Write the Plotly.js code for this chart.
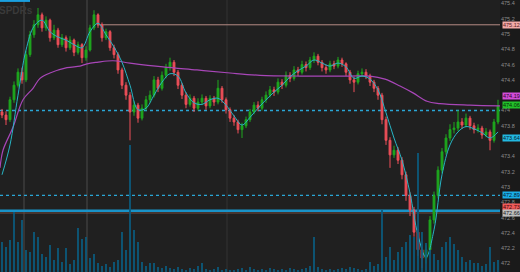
<!DOCTYPE html>
<html><head><meta charset="utf-8">
<script src="https://cdn.plot.ly/plotly-3.0.1.min.js"></script>
<style>html,body{margin:0;padding:0;background:#1a1a1a;}#chart{width:520px;height:272px;}</style>
</head><body><div id="chart"></div>
<script>
// ---- data (SPY-like intraday, one candle per bucket) ----
const open = [473.98,473.94,473.88,474.14,474.33,474.50,474.40,474.73,474.99,475.12,
475.25,475.08,475.18,474.95,475.05,474.86,474.95,474.82,474.92,474.76,
474.86,474.69,474.79,475.08,475.25,475.12,474.95,475.03,474.82,474.73,
474.53,474.33,474.20,473.98,474.07,473.90,474.03,474.14,474.20,474.40,
474.29,474.46,474.56,474.63,474.50,474.33,474.20,474.08,474.16,474.03,
474.11,474.16,474.06,474.16,474.11,474.29,474.14,474.01,473.90,473.85,
473.75,473.80,473.88,473.98,474.07,474.03,474.14,474.20,474.27,474.24,
474.37,474.33,474.46,474.42,474.53,474.50,474.60,474.56,474.66,474.71,
474.63,474.56,474.53,474.61,474.58,474.66,474.61,474.50,474.40,474.37,
474.48,474.50,474.45,474.37,474.29,474.20,473.88,473.61,473.42,473.48,
473.35,473.16,472.89,472.70,472.41,472.18,472.07,472.18,472.57,472.89,
473.22,473.46,473.64,473.75,473.77,473.85,473.81,473.90,473.80,473.75,
473.77,473.68,473.72,473.61,473.85];
const high = [474.02,473.99,474.18,474.38,474.55,474.56,474.78,475.04,475.18,475.34,
475.28,475.23,475.20,475.12,475.08,475.00,474.98,474.97,474.94,474.90,
474.88,474.84,475.12,475.31,475.27,475.15,475.07,475.05,474.86,474.76,
474.56,474.37,474.24,474.12,474.10,474.08,474.19,474.26,474.45,474.44,
474.51,474.61,474.69,474.66,474.53,474.36,474.24,474.21,474.19,474.16,
474.21,474.19,474.20,474.19,474.40,474.32,474.17,474.04,473.94,473.88,
473.84,473.92,474.02,474.11,474.12,474.18,474.25,474.32,474.31,474.42,
474.41,474.51,474.50,474.58,474.57,474.65,474.64,474.70,474.76,474.74,
474.66,474.60,474.65,474.65,474.70,474.69,474.63,474.53,474.44,474.52,
474.55,474.54,474.48,474.40,474.32,474.23,473.92,473.65,473.54,473.52,
473.39,473.20,472.93,472.74,472.45,472.22,472.24,472.62,472.94,473.27,
473.51,473.69,473.82,473.85,474.00,473.90,473.96,473.93,473.84,473.82,
473.80,473.77,473.75,473.89,474.14];
const low = [473.90,473.81,473.85,474.10,474.30,474.35,474.37,474.70,474.95,475.08,
475.03,475.04,474.90,474.92,474.82,474.83,474.77,474.79,474.71,474.73,
474.62,474.65,474.77,475.05,475.08,474.90,474.92,474.78,474.68,474.48,
474.28,474.14,473.61,473.93,473.84,473.87,474.00,474.10,474.17,474.24,
474.26,474.42,474.52,474.45,474.28,474.15,474.03,474.05,473.98,474.00,
474.07,474.01,474.03,474.06,474.08,474.10,473.96,473.85,473.80,473.70,
473.64,473.77,473.85,473.95,473.99,474.00,474.10,474.17,474.19,474.21,
474.28,474.30,474.37,474.39,474.45,474.47,474.51,474.53,474.62,474.59,
474.51,474.48,474.50,474.54,474.55,474.57,474.45,474.35,474.24,474.34,
474.44,474.41,474.32,474.24,474.14,473.82,473.55,473.25,473.38,473.30,
473.10,472.82,472.62,472.35,472.10,471.94,472.00,472.14,472.52,472.85,
473.18,473.42,473.60,473.70,473.73,473.76,473.78,473.75,473.70,473.71,
473.63,473.65,473.48,473.58,473.82];
const close = [473.94,473.88,474.14,474.33,474.50,474.40,474.73,474.99,475.12,475.25,
475.08,475.18,474.95,475.05,474.86,474.95,474.82,474.92,474.76,474.86,
474.69,474.79,475.08,475.25,475.12,474.95,475.03,474.82,474.73,474.53,
474.33,474.20,473.98,474.07,473.90,474.03,474.14,474.20,474.40,474.29,
474.46,474.56,474.63,474.50,474.33,474.20,474.08,474.16,474.03,474.11,
474.16,474.06,474.16,474.11,474.29,474.14,474.01,473.90,473.85,473.75,
473.80,473.88,473.98,474.07,474.03,474.14,474.20,474.27,474.24,474.37,
474.33,474.46,474.42,474.53,474.50,474.60,474.56,474.66,474.71,474.63,
474.56,474.53,474.61,474.58,474.66,474.61,474.50,474.40,474.37,474.48,
474.50,474.45,474.37,474.29,474.20,473.88,473.61,473.42,473.48,473.35,
473.16,472.89,472.70,472.41,472.18,472.07,472.18,472.57,472.89,473.22,
473.46,473.64,473.75,473.77,473.85,473.81,473.90,473.80,473.75,473.77,
473.68,473.72,473.61,473.85,474.06];
// volume in thousands of shares
const volume = [13.2,11.0,14.1,26.5,13.2,22.9,9.7,8.8,17.6,15.4,
7.9,6.6,11.9,5.3,10.6,4.4,10.6,3.5,5.3,19.4,
14.6,15.4,6.2,7.9,4.0,2.6,3.5,2.2,4.4,5.3,
17.6,9.7,56.0,18.5,13.2,4.4,2.6,4.0,4.0,2.2,
1.8,2.6,1.8,1.3,2.2,1.3,0.9,1.8,1.3,2.6,
4.0,1.3,0.9,1.3,2.2,0.9,1.3,0.9,0.9,1.3,
1.8,0.9,2.2,1.3,0.9,1.3,0.9,1.8,1.3,0.9,
1.3,0.9,1.8,1.3,0.9,1.3,1.8,2.6,15.4,2.2,
1.3,0.9,1.3,0.9,1.3,1.8,1.3,2.2,1.8,1.3,
0.9,1.3,4.4,2.6,3.5,27.3,6.6,11.0,5.3,8.8,
11.0,13.2,16.3,15.4,52.5,17.6,12.8,9.7,7.9,5.3,
11.0,13.2,15.4,12.3,9.7,6.6,4.4,5.3,4.0,4.0,
2.6,3.5,11.0,4.4,5.3];
// short EMA, sampled every second candle
const emaVals = [473.16,473.55,474.20,474.79,475.10,475.18,475.03,474.96,474.92,474.86,
474.82,475.03,475.14,474.99,474.83,474.63,474.33,474.01,474.03,474.20,
474.37,474.48,474.45,474.23,474.10,474.08,474.14,474.16,474.07,473.93,
473.81,473.91,474.03,474.14,474.24,474.33,474.44,474.52,474.58,474.66,
474.62,474.58,474.62,474.57,474.42,474.45,474.41,474.27,473.97,473.64,
473.35,472.92,472.37,472.08,472.44,473.16,473.55,473.72,473.79,473.76,
473.71,473.64,473.72];
// VWAP-style line: candle position and value
const vwapPos = [-0.5,0.25,2.75,5.25,7.75,9.5,12,16.25,19.5,21.25,23.75,27.75,32,40.25,48.75,57,64.5,74.5,87,92,95.75,99.5,102.75,106.25,109.5,117,124.5];
const vwapVals = [473.25,473.48,473.78,474.14,474.29,474.42,474.49,474.56,474.58,474.61,474.63,474.65,474.62,474.57,474.53,474.49,474.46,474.45,474.45,474.45,474.41,474.32,474.23,474.12,474.09,474.07,474.06];
// reference levels
const levelTarget = 475.12, levelPivot = 474.00, levelSupport = 472.89, levelPrevClose = 472.69, levelLow = 472.66;
const sessionMarks = [5.5, 21.25, 56.25];
// right-axis ticks (474.2 and 473.6 sit under the price flags)
const tickValues = [475.4,475.2,475.0,474.8,474.6,474.4,474.0,473.8,473.4,473.2,473.0,472.8,472.6,472.4,472.2,472.0];
const tickTexts = ['475.4','475.2','475','474.8','474.6','474.4','474','473.8','473.4','473.2','473','472.8','472.6','472.4','472.2','472'];
const priceLabels = [
 {v:475.12, t:'475.12', bg:'#f2aaa8', fg:'#5a2020'},
 {v:474.19, t:'474.19', bg:'#d24cd8', fg:'#2a062a'},
 {v:474.075, t:'474.06', bg:'#22c02a', fg:'#062a06'},
 {v:473.64, t:'473.64', bg:'#22b8e0', fg:'#062030'},
 {v:472.89, t:'472.89', bg:'#19aee8', fg:'#062030'},
 {v:472.735, t:'472.73', bg:'#f05a5a', fg:'#3a0808'},
 {v:472.664, t:'472.66', bg:'#bdbdbd', fg:'#202020'}
];

const idx = open.map((_, i) => i);
const emaX = emaVals.map((_, k) => 2 * k);

const traces = [
 {type:'bar', x:idx, y:volume, yaxis:'y2', marker:{color:'#0c5a7c', line:{width:0}}, width:0.45, hoverinfo:'skip'},
 {type:'candlestick', x:idx, open:open, high:high, low:low, close:close, whiskerwidth:0,
  increasing:{line:{color:'#1ea81e', width:1}, fillcolor:'#1ea81e'},
  decreasing:{line:{color:'#ee4f58', width:1}, fillcolor:'#ee4f58'}, hoverinfo:'skip'},
 {type:'scatter', mode:'lines', x:vwapPos, y:vwapVals, line:{color:'#a846b8', width:1.2, shape:'spline'}, hoverinfo:'skip'},
 {type:'scatter', mode:'lines', x:emaX, y:emaVals, line:{color:'#27b4c4', width:1, shape:'spline'}, hoverinfo:'skip'}
];

const shapes = [];
sessionMarks.forEach((m, k) => shapes.push({type:'line', xref:'x', yref:'paper', x0:m, x1:m, y0:0, y1:1, layer:'below', line:{color: k < 2 ? '#4a4a4a' : '#333333', width:1}}));
shapes.push({type:'line', xref:'x', yref:'y', x0:23.75, x1:124.5, y0:levelTarget, y1:levelTarget, layer:'below', line:{color:'#b48a84', width:1}});
shapes.push({type:'line', xref:'paper', yref:'y', x0:0, x1:1, y0:levelPivot, y1:levelPivot, layer:'below', line:{color:'#2aa6d6', width:1.3, dash:'dot'}});
shapes.push({type:'line', xref:'paper', yref:'y', x0:0, x1:1, y0:levelSupport, y1:levelSupport, layer:'below', line:{color:'#2aa6d6', width:1.3, dash:'dot'}});
shapes.push({type:'line', xref:'paper', yref:'y', x0:0, x1:1, y0:levelPrevClose, y1:levelPrevClose, layer:'below', line:{color:'#1993c8', width:2.5}});
shapes.push({type:'line', xref:'paper', yref:'y', x0:0, x1:1, y0:levelLow, y1:levelLow, layer:'below', line:{color:'#6a4a40', width:1}});
shapes.push({type:'rect', xref:'paper', yref:'paper', x0:0, x1:0.06, y0:0.993, y1:1, line:{width:0}, fillcolor:'#1aa0e0'});

const annotations = priceLabels.map(l => ({xref:'paper', yref:'y', x:1, y:l.v, xanchor:'left', yanchor:'middle', xshift:2,
  text:l.t, showarrow:false, bgcolor:l.bg, borderpad:0, font:{size:5.5, color:l.fg, family:'Liberation Sans, Arial'}}));
annotations.push({xref:'paper', yref:'paper', x:0, y:1, xanchor:'left', yanchor:'top', xshift:-3, yshift:-3, text:'<b>SPDRs</b>', showarrow:false,
  font:{size:10, color:'#3a3a3a', family:'Liberation Sans, Arial'}});

const layout = {
 width:520, height:272, margin:{l:0, r:20, t:0, b:0},
 paper_bgcolor:'#1a1a1a', plot_bgcolor:'#202020', showlegend:false, boxgap:0.35,
 xaxis:{range:[-0.5,124.5], showgrid:false, zeroline:false, showticklabels:false, showline:false, rangeslider:{visible:false}},
 yaxis:{side:'right', range:[471.889,475.444], tickmode:'array', tickvals:tickValues, ticktext:tickTexts, showgrid:false, zeroline:false, ticks:'', automargin:false,
  tickfont:{size:5.5, color:'#8c8c8c', family:'Liberation Sans, Arial'}},
 yaxis2:{overlaying:'y', range:[0,120], visible:false},
 shapes:shapes, annotations:annotations
};
Plotly.newPlot('chart', traces, layout, {staticPlot:true, displayModeBar:false});
</script></body></html>
